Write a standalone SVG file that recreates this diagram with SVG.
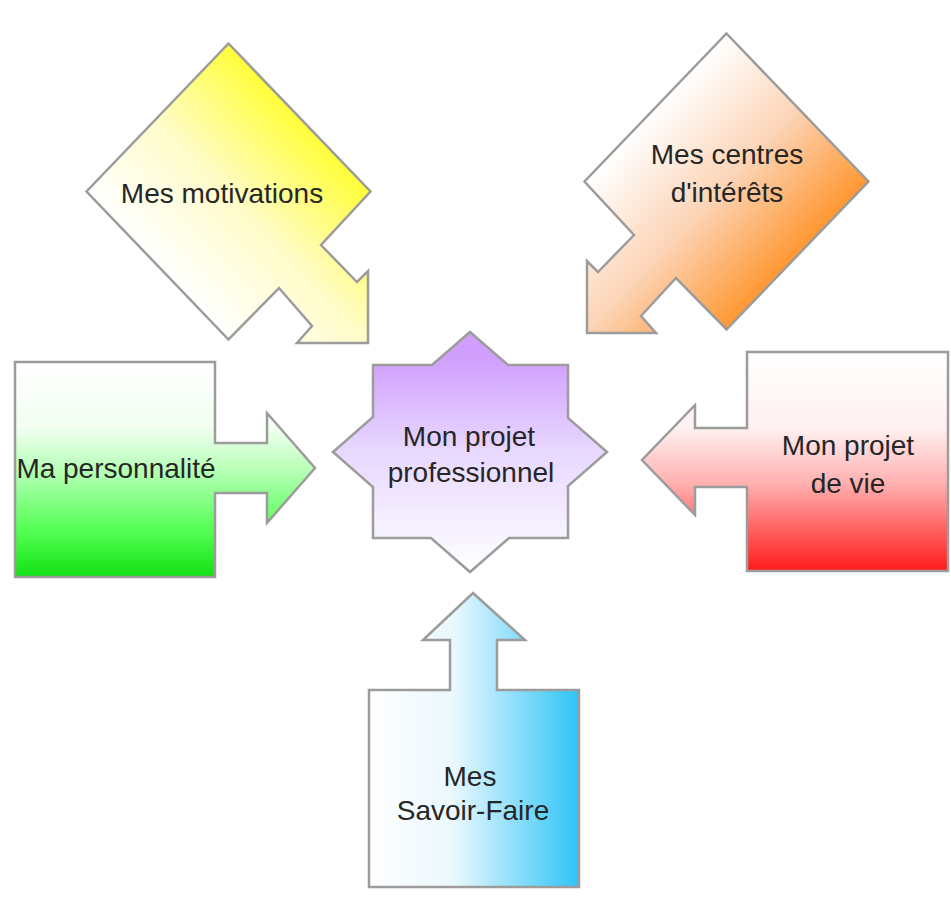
<svg xmlns="http://www.w3.org/2000/svg" width="951" height="914" viewBox="0 0 951 914">
<style>
.shape{stroke:#9c9c9c;stroke-width:2.5;stroke-linejoin:miter}
.lbl{font-family:"Liberation Sans",Arial,sans-serif;font-size:28px;fill:#262626;text-anchor:middle;dominant-baseline:central}
</style>
<defs>
<linearGradient id="gY" x1="1" y1="0" x2="0" y2="1">
<stop offset="0.15" stop-color="#ffff00"/>
<stop offset="0.5" stop-color="#fffcc8"/>
<stop offset="0.75" stop-color="#ffffff"/>
</linearGradient>
<linearGradient id="gO" x1="0" y1="0" x2="1" y2="1">
<stop offset="0.25" stop-color="#ffffff"/>
<stop offset="0.5" stop-color="#fcd4b6"/>
<stop offset="0.8" stop-color="#ff8a14"/>
</linearGradient>
<linearGradient id="gG" x1="0" y1="0" x2="0" y2="1">
<stop offset="0" stop-color="#ffffff"/>
<stop offset="0.3" stop-color="#f2fff2"/>
<stop offset="0.5" stop-color="#b8ffb8"/>
<stop offset="0.78" stop-color="#55ff55"/>
<stop offset="1" stop-color="#12e012"/>
</linearGradient>
<linearGradient id="gR" x1="0" y1="0" x2="0" y2="1">
<stop offset="0" stop-color="#ffffff"/>
<stop offset="0.35" stop-color="#fff0f0"/>
<stop offset="0.6" stop-color="#ffb0b0"/>
<stop offset="1" stop-color="#ff1a1a"/>
</linearGradient>
<linearGradient id="gB" x1="0" y1="0" x2="1" y2="0">
<stop offset="0" stop-color="#ffffff"/>
<stop offset="0.4" stop-color="#eaf8fe"/>
<stop offset="1" stop-color="#2ec4f6"/>
</linearGradient>
<linearGradient id="gP" x1="0" y1="0" x2="0" y2="1">
<stop offset="0.1" stop-color="#d09efd"/>
<stop offset="0.5" stop-color="#e8d8ff"/>
<stop offset="1" stop-color="#ffffff"/>
</linearGradient>
</defs>
<rect width="951" height="914" fill="#ffffff"/>

<g id="connectors"></g>

<g id="motivations">
<polygon class="shape" fill="url(#gY)" points="228.5,43.5 370.5,191.5 321,245 357,282 368,271 368,343 297,343 312,326 279,288 228.5,339.5 86.5,191.5"/>
<text class="lbl" x="222" y="193">Mes motivations</text>
</g>

<g id="centres">
<polygon class="shape" fill="url(#gO)" points="726.5,33.5 868.5,181.5 726.5,329.5 676,278 641,316 656,333 587,333 587,261 598,272 634,235 584.5,181.5"/>
<text class="lbl" x="727" y="154">Mes centres</text>
<text class="lbl" x="727" y="192">d'intérêts</text>
</g>

<g id="personnalite">
<polygon class="shape" fill="url(#gG)" points="15,362 215,362 215,443 267,443 267,413 315,468 267,523 267,493 215,493 215,577 15,577"/>
<text class="lbl" x="116" y="468">Ma personnalité</text>
</g>

<g id="projet-vie">
<polygon class="shape" fill="url(#gR)" points="747,352 948,352 948,571 747,571 747,487 695,487 695,515 642,460 695,405 695,428 747,428"/>
<text class="lbl" x="848" y="445">Mon projet</text>
<text class="lbl" x="848" y="483">de vie</text>
</g>

<g id="savoir-faire">
<polygon class="shape" fill="url(#gB)" points="473,593 525,640 497,640 497,690 579,690 579,887 369,887 369,690 450,690 450,640 423,640"/>
<text class="lbl" x="470" y="776">Mes</text>
<text class="lbl" x="473" y="810">Savoir-Faire</text>
</g>

<g id="projet-pro">
<polygon class="shape" fill="url(#gP)" stroke="#a596b4" points="470,332 508,365 568,365 568,418 607,452 568,486 568,538 509,538 470,572 431,538 373,538 373,487 333,452 373,417 373,365 432,365"/>
<text class="lbl" x="469" y="436">Mon projet</text>
<text class="lbl" x="471" y="472">professionnel</text>
</g>
</svg>
